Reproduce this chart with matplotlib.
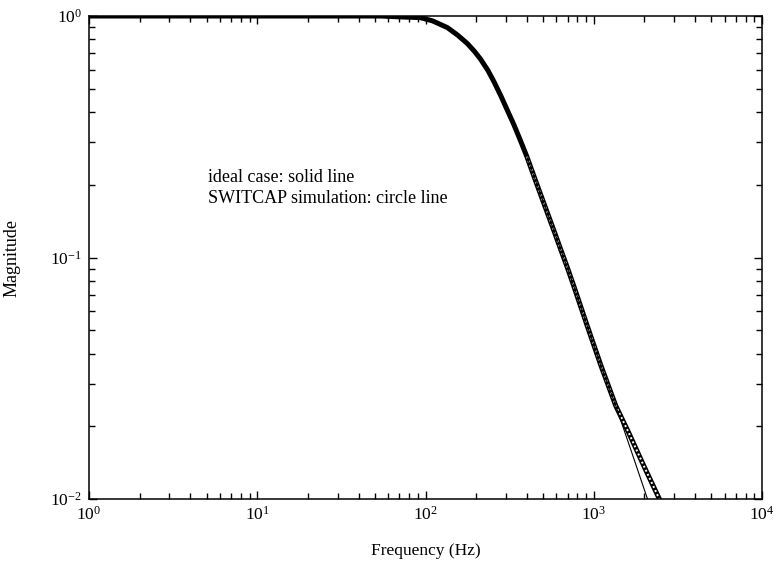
import matplotlib
matplotlib.use("Agg")
import matplotlib.pyplot as plt
from matplotlib.ticker import LogLocator, LogFormatterMathtext, NullFormatter

plt.rcParams["font.family"] = ["Liberation Serif", "DejaVu Serif"]
plt.rcParams["mathtext.fontset"] = "stix"

# ---------------------------------------------------------------------------
# data (frequency in Hz, magnitude linear)
# ---------------------------------------------------------------------------
# SWITCAP simulation (circle line)
sim_freq = [1, 3, 10, 30, 54, 75, 93, 110, 135, 155, 177, 195, 212, 235, 255,
            280, 306, 335, 368, 400, 441, 485, 530, 580, 636, 700, 764, 917,
            1101, 1352, 1614, 1985, 2437, 2600]
sim_mag = [1.0, 1.0, 1.0, 1.0, 1.0, 0.99, 0.985, 0.955, 0.895, 0.834, 0.770,
           0.715, 0.664, 0.595, 0.535, 0.468, 0.408, 0.355, 0.303, 0.262,
           0.217, 0.181, 0.153, 0.129, 0.108, 0.090, 0.0755, 0.0518, 0.0358,
           0.0243, 0.0188, 0.0137, 0.0101, 0.0092]

# ideal case (solid line)
ideal_freq = [1, 3, 10, 30, 54, 75, 93, 110, 135, 155, 177, 195, 212, 235, 255,
              280, 306, 335, 368, 400, 441, 485, 530, 580, 636, 700, 764, 917,
              1101, 1352, 1660, 2066, 2150]
ideal_mag = [1.0, 1.0, 1.0, 1.0, 1.0, 0.99, 0.985, 0.955, 0.895, 0.834, 0.770,
             0.715, 0.664, 0.595, 0.535, 0.468, 0.408, 0.355, 0.303, 0.262,
             0.217, 0.181, 0.153, 0.129, 0.108, 0.090, 0.0755, 0.0518, 0.0358,
             0.0243, 0.0160, 0.0102, 0.0095]

fig = plt.figure(figsize=(7.76, 5.72), dpi=100)
ax = fig.add_axes([0.1147, 0.1276, 0.8673, 0.8444])

# circle line: dark band with a broken white core so it reads as a chain of rings
ax.plot(sim_freq, sim_mag, color="black", lw=3.6, solid_capstyle="butt", zorder=2)
n_core = 19  # white core only on the steep part, the knee looks solid
ax.plot(sim_freq[n_core:], sim_mag[n_core:], color="white", lw=1.4,
        dashes=(1.0, 1.3), zorder=2.1)

# ideal response
ax.plot(ideal_freq, ideal_mag, color="black", lw=0.8, zorder=2.2)

ax.set_xscale("log")
ax.set_yscale("log")
ax.set_xlim(1, 1e4)
ax.set_ylim(1e-2, 1)

ax.xaxis.set_major_locator(LogLocator(base=10, numticks=10))
ax.xaxis.set_minor_locator(LogLocator(base=10, subs=range(2, 10), numticks=20))
ax.yaxis.set_major_locator(LogLocator(base=10, numticks=10))
ax.yaxis.set_minor_locator(LogLocator(base=10, subs=range(2, 10), numticks=20))
ax.xaxis.set_major_formatter(LogFormatterMathtext())
ax.yaxis.set_major_formatter(LogFormatterMathtext())
ax.xaxis.set_minor_formatter(NullFormatter())
ax.yaxis.set_minor_formatter(NullFormatter())

ax.tick_params(which="both", direction="in", top=True, right=True,
               width=1.0, labelsize=12.5, colors="black")
ax.tick_params(which="major", length=6, pad=5)
ax.tick_params(which="minor", length=4.5)
for s in ax.spines.values():
    s.set_linewidth(1.1)

ax.set_xlabel("Frequency (Hz)", fontsize=12.5)
ax.set_ylabel("Magnitude", fontsize=13)
ax.xaxis.set_label_coords(0.5, -0.091)
ax.yaxis.set_label_coords(-0.1025, 0.5)

ax.text(0.177, 0.656, "ideal case: solid line", transform=ax.transAxes,
        fontsize=13, va="baseline")
ax.text(0.177, 0.612, "SWITCAP simulation: circle line", transform=ax.transAxes,
        fontsize=13, va="baseline")

fig.savefig("out.png", dpi=100)
